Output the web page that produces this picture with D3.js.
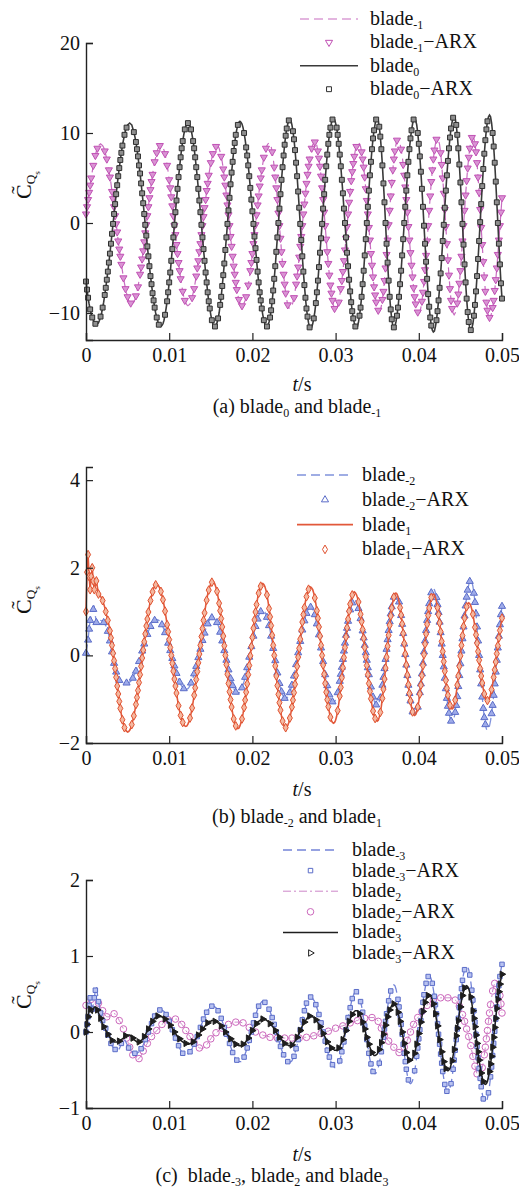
<!DOCTYPE html>
<html>
<head>
<meta charset="utf-8">
<script src="https://cdn.jsdelivr.net/npm/d3@7"></script>
<style>
  body { margin: 0; background: #fff; }
  svg { display: block; font-family: 'Liberation Serif', 'Times New Roman', serif; }
</style>
</head>
<body>
<svg id="fig" width="519" height="1189"></svg>
<script>
const DT = 0.000125; // sample step of all series, s

// (a)
const blade0 = [-6.5, -7.4, -8.3, -9.0, -9.6, -10.1, -10.5, -10.8, -11.0, -11.2, -11.3,
  -11.2, -11.1, -10.8, -10.4, -10.0, -9.4, -8.8, -8.0, -7.2, -6.3, -5.4, -4.4, -3.4, -2.3, -1.2, -0.1, 1.0, 2.1, 3.2, 4.2, 5.2, 6.1, 7.0, 7.8, 8.6, 9.2, 9.8, 10.3, 10.6, 10.9, 11.0, 11.1,
  11.0, 10.9, 10.5, 10.1, 9.6, 9.0, 8.2, 7.4, 6.4, 5.5, 4.4, 3.3, 2.2, 1.0, -0.2, -1.4, -2.6, -3.7, -4.8, -5.9, -6.8, -7.8, -8.6, -9.4, -10.0, -10.5, -10.9, -11.3, -11.4, -11.5,
  -11.4, -11.2, -10.8, -10.2, -9.5, -8.7, -7.7, -6.6, -5.5, -4.2, -2.9, -1.6, -0.2, 1.2, 2.5, 3.8, 5.1, 6.2, 7.3, 8.3, 9.1, 9.8, 10.4, 10.8, 11.0, 11.1,
  11.0, 10.8, 10.4, 9.8, 9.1, 8.3, 7.3, 6.2, 5.1, 3.8, 2.5, 1.2, -0.2, -1.6, -2.9, -4.2, -5.5, -6.6, -7.7, -8.7, -9.5, -10.2, -10.8, -11.2, -11.4, -11.5,
  -11.4, -11.1, -10.6, -10.0, -9.1, -8.2, -7.0, -5.8, -4.5, -3.0, -1.6, -0.1, 1.4, 2.8, 4.3, 5.6, 6.8, 8.0, 8.9, 9.8, 10.4, 10.9, 11.2, 11.3,
  11.2, 11.0, 10.6, 10.0, 9.3, 8.4, 7.5, 6.4, 5.2, 3.9, 2.6, 1.3, -0.1, -1.5, -2.8, -4.1, -5.4, -6.6, -7.7, -8.6, -9.5, -10.2, -10.8, -11.2, -11.4, -11.5,
  -11.4, -11.0, -10.5, -9.7, -8.7, -7.5, -6.2, -4.8, -3.2, -1.6, 0.0, 1.6, 3.2, 4.8, 6.2, 7.5, 8.7, 9.7, 10.5, 11.0, 11.4, 11.5,
  11.4, 10.9, 10.2, 9.3, 8.1, 6.7, 5.2, 3.5, 1.7, -0.1, -1.9, -3.7, -5.4, -6.9, -8.3, -9.5, -10.4, -11.1, -11.6, -11.7,
  -11.6, -11.2, -10.6, -9.9, -8.9, -7.7, -6.4, -4.9, -3.3, -1.7, -0.1, 1.6, 3.2, 4.8, 6.3, 7.6, 8.8, 9.8, 10.6, 11.1, 11.5, 11.6,
  11.5, 11.1, 10.6, 9.8, 8.8, 7.6, 6.3, 4.8, 3.3, 1.6, 0.0, -1.6, -3.3, -4.8, -6.3, -7.6, -8.8, -9.8, -10.6, -11.1, -11.5, -11.6,
  -11.5, -11.0, -10.3, -9.4, -8.2, -6.8, -5.3, -3.6, -1.8, 0.0, 1.8, 3.6, 5.3, 6.8, 8.2, 9.4, 10.3, 11.0, 11.5, 11.6,
  11.4, 10.7, 9.6, 8.2, 6.4, 4.4, 2.3, 0.0, -2.3, -4.4, -6.4, -8.2, -9.6, -10.7, -11.4, -11.6,
  -11.5, -11.0, -10.3, -9.4, -8.2, -6.8, -5.3, -3.6, -1.8, 0.0, 1.8, 3.6, 5.3, 6.8, 8.2, 9.4, 10.3, 11.0, 11.5, 11.6,
  11.4, 10.9, 10.0, 8.8, 7.4, 5.7, 3.8, 1.8, -0.3, -2.3, -4.3, -6.2, -7.9, -9.3, -10.5, -11.4, -11.9, -12.1,
  -12.0, -11.5, -10.8, -9.8, -8.6, -7.2, -5.6, -3.9, -2.0, -0.2, 1.7, 3.6, 5.3, 6.9, 8.3, 9.5, 10.5, 11.2, 11.7, 11.8,
  11.6, 10.9, 9.8, 8.3, 6.5, 4.5, 2.3, -0.1, -2.4, -4.6, -6.6, -8.4, -9.9, -11.0, -11.7, -11.9,
  -11.7, -11.2, -10.3, -9.1, -7.6, -5.9, -4.0, -2.0, 0.1, 2.1, 4.1, 6.0, 7.7, 9.2, 10.4, 11.3, 11.8, 12.0,
  11.8, 11.1, 10.0, 8.5, 6.7, 4.6, 2.3, 0.0, -2.3, -4.6, -6.7, -8.4];

const bladeM1 = [1.0, 1.8, 2.6, 3.4, 4.2, 5.0, 5.7, 6.4, 7.0, 7.5, 8.0, 8.3, 8.6, 8.7, 8.8,
  8.7, 8.6, 8.4, 8.0, 7.6, 7.1, 6.5, 5.9, 5.1, 4.4, 3.5, 2.7, 1.8, 0.8, -0.1, -1.0, -2.0, -2.9, -3.7, -4.6, -5.3, -6.1, -6.7, -7.3, -7.8, -8.2, -8.6, -8.8, -8.9, -9.0,
  -8.9, -8.8, -8.5, -8.1, -7.6, -7.1, -6.4, -5.7, -4.9, -4.0, -3.1, -2.1, -1.1, -0.2, 0.8, 1.8, 2.8, 3.7, 4.6, 5.4, 6.1, 6.8, 7.3, 7.8, 8.2, 8.5, 8.6, 8.7,
  8.6, 8.4, 8.1, 7.7, 7.1, 6.4, 5.7, 4.8, 3.9, 2.9, 1.9, 0.8, -0.3, -1.3, -2.4, -3.4, -4.4, -5.3, -6.2, -6.9, -7.6, -8.2, -8.6, -8.9, -9.1, -9.2,
  -9.1, -9.0, -8.7, -8.3, -7.8, -7.3, -6.6, -5.9, -5.0, -4.2, -3.2, -2.3, -1.3, -0.3, 0.7, 1.7, 2.6, 3.6, 4.4, 5.3, 6.0, 6.7, 7.2, 7.7, 8.1, 8.4, 8.5, 8.6,
  8.5, 8.3, 7.9, 7.4, 6.8, 6.0, 5.1, 4.2, 3.1, 2.0, 0.9, -0.3, -1.5, -2.6, -3.7, -4.8, -5.7, -6.6, -7.4, -8.0, -8.5, -8.9, -9.1, -9.2,
  -9.1, -8.9, -8.6, -8.2, -7.6, -6.9, -6.2, -5.3, -4.4, -3.4, -2.3, -1.3, -0.2, 0.9, 2.0, 3.0, 4.1, 5.0, 5.9, 6.6, 7.3, 7.8, 8.3, 8.6, 8.8, 8.9,
  8.8, 8.5, 7.9, 7.2, 6.2, 5.1, 3.9, 2.6, 1.1, -0.3, -1.7, -3.2, -4.5, -5.7, -6.8, -7.8, -8.5, -9.1, -9.4, -9.5,
  -9.4, -9.2, -8.8, -8.3, -7.6, -6.8, -5.9, -4.9, -3.8, -2.6, -1.5, -0.3, 1.0, 2.1, 3.3, 4.4, 5.4, 6.3, 7.1, 7.8, 8.3, 8.7, 8.9, 9.0,
  8.9, 8.6, 8.0, 7.2, 6.3, 5.2, 3.9, 2.6, 1.2, -0.3, -1.8, -3.2, -4.5, -5.8, -6.9, -7.8, -8.6, -9.2, -9.5, -9.6,
  -9.5, -9.2, -8.8, -8.1, -7.3, -6.4, -5.4, -4.2, -3.0, -1.7, -0.4, 1.0, 2.3, 3.5, 4.7, 5.7, 6.6, 7.4, 8.1, 8.5, 8.8, 8.9,
  8.8, 8.5, 7.9, 7.1, 6.2, 5.1, 3.8, 2.5, 1.0, -0.5, -1.9, -3.4, -4.7, -6.0, -7.1, -8.0, -8.8, -9.4, -9.7, -9.8,
  -9.7, -9.2, -8.5, -7.6, -6.4, -5.0, -3.5, -1.9, -0.2, 1.4, 3.0, 4.5, 5.9, 7.1, 8.0, 8.7, 9.2, 9.3,
  9.2, 8.8, 8.2, 7.5, 6.5, 5.3, 4.0, 2.6, 1.2, -0.4, -1.9, -3.3, -4.7, -6.0, -7.2, -8.2, -9.0, -9.5, -9.9, -10.0,
  -9.9, -9.4, -8.7, -7.7, -6.5, -5.2, -3.6, -2.0, -0.3, 1.4, 3.0, 4.6, 5.9, 7.1, 8.1, 8.8, 9.3, 9.4,
  9.2, 8.7, 7.8, 6.5, 5.0, 3.3, 1.5, -0.4, -2.3, -4.1, -5.8, -7.3, -8.6, -9.5, -10.0, -10.2,
  -10.0, -9.6, -8.9, -7.9, -6.7, -5.3, -3.7, -2.0, -0.3, 1.4, 3.1, 4.7, 6.1, 7.3, 8.3, 9.0, 9.5, 9.6,
  9.4, 8.8, 7.9, 6.7, 5.1, 3.4, 1.5, -0.5, -2.4, -4.3, -6.0, -7.6, -8.8, -9.7, -10.3, -10.5,
  -10.4, -10.0, -9.4, -8.6, -7.5, -6.3, -5.0, -3.5, -1.9, -0.3, 1.2, 2.8];

// (b)
const blade1 = [1.0, 1.9, 2.3, 1.8, 1.5, 1.8, 2.0, 1.7, 1.5, 1.6, 1.7, 1.55, 1.4, 1.38, 1.35, 1.3, 1.25, 1.18, 1.1, 1.0, 0.9, 0.8, 0.7, 0.56, 0.4, 0.23, 0.05, -0.12, -0.3, -0.5, -0.7, -0.88, -1.05, -1.21, -1.35, -1.47, -1.57, -1.65, -1.7, -1.73, -1.75,
  -1.74, -1.71, -1.66, -1.58, -1.49, -1.38, -1.26, -1.12, -0.96, -0.80, -0.62, -0.44, -0.25, -0.06, 0.12, 0.31, 0.49, 0.67, 0.83, 0.99, 1.13, 1.25, 1.36, 1.45, 1.53, 1.58, 1.61, 1.62,
  1.61, 1.58, 1.53, 1.46, 1.37, 1.27, 1.15, 1.01, 0.86, 0.70, 0.54, 0.36, 0.18, 0.0, -0.18, -0.36, -0.54, -0.70, -0.86, -1.01, -1.15, -1.27, -1.37, -1.46, -1.53, -1.58, -1.61, -1.62,
  -1.61, -1.57, -1.51, -1.43, -1.33, -1.20, -1.06, -0.91, -0.74, -0.55, -0.37, -0.17, 0.03, 0.23, 0.43, 0.61, 0.80, 0.97, 1.12, 1.26, 1.39, 1.49, 1.57, 1.63, 1.67, 1.68,
  1.67, 1.62, 1.55, 1.46, 1.33, 1.19, 1.02, 0.84, 0.65, 0.44, 0.22, 0.0, -0.21, -0.43, -0.64, -0.83, -1.01, -1.18, -1.32, -1.45, -1.54, -1.61, -1.66, -1.67,
  -1.66, -1.61, -1.54, -1.45, -1.33, -1.19, -1.02, -0.84, -0.65, -0.44, -0.23, -0.01, 0.20, 0.41, 0.62, 0.81, 0.99, 1.16, 1.30, 1.42, 1.51, 1.58, 1.63, 1.64,
  1.62, 1.57, 1.49, 1.38, 1.24, 1.07, 0.88, 0.68, 0.46, 0.23, 0.0, -0.24, -0.47, -0.69, -0.89, -1.08, -1.25, -1.39, -1.50, -1.58, -1.63, -1.65,
  -1.64, -1.60, -1.53, -1.43, -1.32, -1.18, -1.02, -0.85, -0.66, -0.46, -0.25, -0.04, 0.16, 0.37, 0.57, 0.76, 0.93, 1.09, 1.23, 1.34, 1.44, 1.51, 1.55, 1.56,
  1.54, 1.50, 1.42, 1.31, 1.18, 1.02, 0.85, 0.65, 0.44, 0.23, 0.0, -0.22, -0.43, -0.64, -0.84, -1.01, -1.17, -1.30, -1.41, -1.49, -1.53, -1.55,
  -1.53, -1.48, -1.39, -1.26, -1.11, -0.93, -0.73, -0.51, -0.28, -0.05, 0.18, 0.42, 0.63, 0.83, 1.01, 1.17, 1.29, 1.38, 1.43, 1.45,
  1.43, 1.39, 1.32, 1.22, 1.09, 0.94, 0.77, 0.59, 0.39, 0.18, -0.03, -0.23, -0.44, -0.64, -0.82, -0.99, -1.14, -1.27, -1.37, -1.44, -1.48, -1.5,
  -1.48, -1.41, -1.30, -1.16, -0.98, -0.77, -0.54, -0.29, -0.04, 0.21, 0.46, 0.69, 0.90, 1.08, 1.22, 1.33, 1.40, 1.42,
  1.40, 1.34, 1.23, 1.09, 0.92, 0.72, 0.50, 0.27, 0.03, -0.22, -0.45, -0.67, -0.87, -1.04, -1.18, -1.29, -1.35, -1.37,
  -1.35, -1.29, -1.18, -1.05, -0.88, -0.68, -0.46, -0.23, 0.02, 0.26, 0.49, 0.71, 0.91, 1.08, 1.21, 1.32, 1.38, 1.40,
  1.38, 1.32, 1.22, 1.09, 0.93, 0.74, 0.54, 0.32, 0.09, -0.14, -0.36, -0.57, -0.75, -0.91, -1.04, -1.14, -1.20, -1.22,
  -1.20, -1.13, -1.02, -0.87, -0.68, -0.47, -0.25, -0.01, 0.23, 0.45, 0.66, 0.85, 1.00, 1.11, 1.18, 1.20,
  1.18, 1.13, 1.05, 0.94, 0.80, 0.64, 0.47, 0.28, 0.09, -0.11, -0.30, -0.47, -0.63, -0.77, -0.88, -0.96, -1.01, -1.03,
  -1.01, -0.97, -0.89, -0.78, -0.65, -0.50, -0.33, -0.15, 0.04, 0.22, 0.40, 0.57, 0.72, 0.85];

const bladeM2 = [0.05, 0.2, 0.35, 0.6, 0.8, 0.9, 0.95, 1.05, 1.1, 0.9, 0.75, 0.8, 0.85, 0.83, 0.8, 0.79, 0.78, 0.75, 0.72, 0.68, 0.62, 0.55, 0.45, 0.33, 0.2, 0.08, -0.05, -0.18, -0.3, -0.38, -0.45, -0.52, -0.57, -0.6, -0.62, -0.63, -0.63, -0.63, -0.63, -0.63, -0.63,
  -0.63, -0.61, -0.59, -0.56, -0.52, -0.47, -0.42, -0.36, -0.29, -0.22, -0.14, -0.07, 0.01, 0.10, 0.18, 0.26, 0.33, 0.41, 0.48, 0.55, 0.61, 0.66, 0.71, 0.75, 0.78, 0.80, 0.81, 0.82,
  0.81, 0.80, 0.78, 0.74, 0.70, 0.65, 0.59, 0.52, 0.45, 0.37, 0.28, 0.20, 0.11, 0.02, -0.07, -0.16, -0.24, -0.33, -0.41, -0.48, -0.55, -0.61, -0.66, -0.70, -0.74, -0.76, -0.77, -0.78,
  -0.77, -0.76, -0.73, -0.69, -0.63, -0.57, -0.50, -0.42, -0.34, -0.25, -0.15, -0.05, 0.05, 0.14, 0.24, 0.34, 0.43, 0.51, 0.59, 0.66, 0.72, 0.78, 0.82, 0.85, 0.86, 0.87,
  0.86, 0.84, 0.80, 0.75, 0.69, 0.62, 0.53, 0.43, 0.33, 0.22, 0.11, 0.0, -0.11, -0.22, -0.33, -0.43, -0.53, -0.62, -0.69, -0.75, -0.80, -0.84, -0.86, -0.87,
  -0.86, -0.84, -0.80, -0.74, -0.67, -0.59, -0.50, -0.39, -0.28, -0.17, -0.04, 0.08, 0.20, 0.33, 0.44, 0.56, 0.66, 0.75, 0.83, 0.90, 0.96, 1.00, 1.02, 1.03,
  1.02, 0.99, 0.94, 0.87, 0.78, 0.68, 0.57, 0.44, 0.30, 0.16, 0.02, -0.12, -0.26, -0.40, -0.53, -0.64, -0.74, -0.83, -0.90, -0.95, -0.98, -0.99,
  -0.98, -0.95, -0.91, -0.85, -0.77, -0.68, -0.58, -0.47, -0.34, -0.21, -0.08, 0.06, 0.19, 0.32, 0.45, 0.58, 0.69, 0.79, 0.88, 0.96, 1.02, 1.06, 1.09, 1.10,
  1.09, 1.06, 1.00, 0.93, 0.83, 0.72, 0.60, 0.47, 0.32, 0.17, 0.02, -0.14, -0.29, -0.44, -0.57, -0.69, -0.80, -0.90, -0.97, -1.03, -1.06, -1.07,
  -1.06, -1.01, -0.94, -0.85, -0.73, -0.59, -0.43, -0.27, -0.09, 0.10, 0.28, 0.46, 0.62, 0.78, 0.92, 1.04, 1.13, 1.20, 1.25, 1.26,
  1.25, 1.21, 1.15, 1.07, 0.97, 0.84, 0.71, 0.56, 0.40, 0.23, 0.06, -0.11, -0.28, -0.44, -0.59, -0.72, -0.85, -0.95, -1.03, -1.09, -1.13, -1.14,
  -1.12, -1.06, -0.97, -0.84, -0.68, -0.50, -0.30, -0.09, 0.14, 0.36, 0.57, 0.77, 0.95, 1.11, 1.24, 1.33, 1.39, 1.41,
  1.39, 1.33, 1.22, 1.08, 0.91, 0.71, 0.50, 0.26, 0.02, -0.22, -0.46, -0.68, -0.87, -1.04, -1.18, -1.29, -1.35, -1.37,
  -1.35, -1.28, -1.18, -1.03, -0.85, -0.65, -0.42, -0.18, 0.08, 0.33, 0.57, 0.80, 1.00, 1.18, 1.33, 1.43, 1.50, 1.52,
  1.50, 1.43, 1.32, 1.16, 0.98, 0.76, 0.52, 0.26, 0.0, -0.26, -0.52, -0.76, -0.98, -1.16, -1.32, -1.43, -1.50, -1.52,
  -1.50, -1.42, -1.30, -1.14, -0.94, -0.71, -0.46, -0.19, 0.10, 0.38, 0.65, 0.90, 1.13, 1.33, 1.49, 1.61, 1.69, 1.71,
  1.68, 1.58, 1.42, 1.21, 0.95, 0.65, 0.33, 0.0, -0.33, -0.65, -0.95, -1.21, -1.42, -1.58, -1.68, -1.71,
  -1.69, -1.61, -1.49, -1.33, -1.14, -0.91, -0.65, -0.38, -0.11, 0.17, 0.44, 0.70, 0.93, 1.12];

// (c)
const blade3 = [0.0, 0.1, 0.2, 0.27, 0.3, 0.26, 0.25, 0.3, 0.33, 0.33, 0.32, 0.29, 0.25, 0.22, 0.18, 0.14, 0.1, 0.07, 0.05, 0.02, 0.0, -0.03, -0.05, -0.07, -0.09, -0.11, -0.12, -0.13, -0.13, -0.13, -0.13, -0.13, -0.12, -0.11, -0.1, -0.09, -0.08, -0.06, -0.05, -0.04, -0.04, -0.04, -0.04, -0.05, -0.07, -0.08, -0.1, -0.11, -0.12, -0.13, -0.13,
  -0.13, -0.12, -0.11, -0.10, -0.08, -0.06, -0.04, -0.01, 0.01, 0.04, 0.07, 0.09, 0.12, 0.14, 0.16, 0.18, 0.19, 0.20, 0.21, 0.21,
  0.21, 0.20, 0.20, 0.19, 0.18, 0.17, 0.16, 0.14, 0.12, 0.11, 0.09, 0.07, 0.05, 0.02, 0.0, -0.02, -0.04, -0.06, -0.07, -0.09, -0.11, -0.12, -0.13, -0.14, -0.15, -0.15, -0.16, -0.16,
  -0.16, -0.15, -0.15, -0.14, -0.13, -0.11, -0.10, -0.08, -0.06, -0.04, -0.03, 0.0, 0.02, 0.04, 0.05, 0.07, 0.09, 0.10, 0.12, 0.13, 0.14, 0.14, 0.15, 0.15,
  0.15, 0.14, 0.14, 0.13, 0.12, 0.11, 0.09, 0.08, 0.06, 0.04, 0.02, 0.0, -0.02, -0.04, -0.05, -0.07, -0.09, -0.11, -0.12, -0.14, -0.15, -0.16, -0.17, -0.17, -0.18, -0.18,
  -0.18, -0.17, -0.16, -0.15, -0.14, -0.12, -0.10, -0.08, -0.05, -0.03, 0.0, 0.02, 0.04, 0.07, 0.09, 0.11, 0.13, 0.14, 0.15, 0.16, 0.17, 0.17,
  0.17, 0.16, 0.16, 0.15, 0.14, 0.13, 0.11, 0.09, 0.08, 0.06, 0.04, 0.02, 0.0, -0.03, -0.05, -0.07, -0.09, -0.10, -0.12, -0.14, -0.15, -0.16, -0.17, -0.17, -0.18, -0.18,
  -0.18, -0.17, -0.16, -0.14, -0.12, -0.10, -0.07, -0.04, -0.02, 0.02, 0.05, 0.08, 0.10, 0.13, 0.15, 0.17, 0.19, 0.20, 0.21, 0.21,
  0.21, 0.20, 0.19, 0.18, 0.16, 0.14, 0.12, 0.10, 0.07, 0.04, 0.01, -0.02, -0.04, -0.07, -0.10, -0.13, -0.15, -0.17, -0.19, -0.21, -0.22, -0.23, -0.24, -0.24,
  -0.24, -0.23, -0.21, -0.19, -0.16, -0.13, -0.10, -0.06, -0.02, 0.02, 0.06, 0.10, 0.14, 0.17, 0.20, 0.23, 0.25, 0.27, 0.28, 0.28,
  0.28, 0.26, 0.24, 0.21, 0.17, 0.13, 0.09, 0.04, -0.02, -0.07, -0.12, -0.16, -0.20, -0.24, -0.27, -0.29, -0.31, -0.31,
  -0.30, -0.29, -0.26, -0.23, -0.19, -0.14, -0.09, -0.03, 0.03, 0.09, 0.15, 0.20, 0.25, 0.29, 0.32, 0.35, 0.36, 0.37,
  0.36, 0.34, 0.31, 0.26, 0.20, 0.14, 0.07, 0.0, -0.08, -0.15, -0.21, -0.27, -0.32, -0.35, -0.37, -0.38,
  -0.37, -0.35, -0.32, -0.28, -0.22, -0.16, -0.09, -0.02, 0.06, 0.13, 0.20, 0.27, 0.33, 0.39, 0.43, 0.46, 0.48, 0.49,
  0.48, 0.46, 0.42, 0.37, 0.31, 0.24, 0.16, 0.08, -0.01, -0.10, -0.18, -0.26, -0.33, -0.39, -0.44, -0.48, -0.50, -0.51,
  -0.50, -0.48, -0.43, -0.38, -0.31, -0.23, -0.14, -0.05, 0.05, 0.15, 0.24, 0.33, 0.41, 0.48, 0.53, 0.58, 0.60, 0.61,
  0.60, 0.57, 0.52, 0.46, 0.38, 0.28, 0.18, 0.07, -0.04, -0.15, -0.26, -0.37, -0.46, -0.54, -0.60, -0.65, -0.68, -0.69,
  -0.68, -0.65, -0.59, -0.52, -0.42, -0.32, -0.20, -0.07, 0.06, 0.18, 0.31, 0.43, 0.53, 0.63, 0.70, 0.76];

const bladeM3 = [0.0, 0.1, 0.2, 0.35, 0.45, 0.38, 0.3, 0.36, 0.45, 0.55, 0.6, 0.5, 0.4, 0.32, 0.25, 0.2, 0.15, 0.12, 0.1, 0.05, 0.0, -0.04, -0.08, -0.12, -0.15, -0.18, -0.2, -0.22, -0.23, -0.24, -0.24, -0.23, -0.22, -0.19, -0.15, -0.11, -0.08, -0.1, -0.12, -0.15, -0.18, -0.21, -0.23, -0.25, -0.26, -0.27, -0.27, -0.28, -0.28,
  -0.28, -0.27, -0.26, -0.24, -0.22, -0.20, -0.17, -0.14, -0.10, -0.07, -0.03, 0.0, 0.04, 0.08, 0.11, 0.15, 0.18, 0.21, 0.23, 0.25, 0.27, 0.28, 0.29, 0.29,
  0.29, 0.28, 0.27, 0.25, 0.23, 0.20, 0.17, 0.14, 0.11, 0.07, 0.03, 0.0, -0.04, -0.08, -0.12, -0.15, -0.18, -0.21, -0.24, -0.26, -0.28, -0.29, -0.30, -0.30,
  -0.30, -0.29, -0.28, -0.26, -0.24, -0.22, -0.19, -0.16, -0.13, -0.09, -0.06, -0.02, 0.02, 0.06, 0.10, 0.13, 0.17, 0.20, 0.23, 0.26, 0.28, 0.30, 0.32, 0.33, 0.34, 0.34,
  0.34, 0.33, 0.32, 0.30, 0.28, 0.25, 0.22, 0.18, 0.14, 0.10, 0.06, 0.02, -0.03, -0.07, -0.11, -0.15, -0.19, -0.23, -0.27, -0.30, -0.33, -0.35, -0.37, -0.38, -0.39, -0.39,
  -0.39, -0.37, -0.35, -0.33, -0.29, -0.25, -0.21, -0.16, -0.11, -0.05, 0.0, 0.06, 0.12, 0.17, 0.22, 0.26, 0.30, 0.34, 0.36, 0.38, 0.40, 0.40,
  0.40, 0.39, 0.37, 0.35, 0.33, 0.30, 0.27, 0.23, 0.19, 0.14, 0.10, 0.05, 0.0, -0.05, -0.10, -0.14, -0.19, -0.23, -0.27, -0.30, -0.33, -0.35, -0.37, -0.39, -0.40, -0.40,
  -0.39, -0.38, -0.35, -0.32, -0.27, -0.22, -0.17, -0.10, -0.04, 0.03, 0.10, 0.16, 0.23, 0.28, 0.33, 0.38, 0.41, 0.44, 0.45, 0.46,
  0.46, 0.44, 0.42, 0.40, 0.36, 0.32, 0.28, 0.23, 0.17, 0.12, 0.06, 0.0, -0.07, -0.12, -0.18, -0.24, -0.29, -0.33, -0.37, -0.41, -0.43, -0.45, -0.47, -0.47,
  -0.46, -0.45, -0.42, -0.38, -0.32, -0.26, -0.20, -0.13, -0.05, 0.03, 0.11, 0.19, 0.26, 0.32, 0.38, 0.44, 0.48, 0.51, 0.52, 0.53,
  0.52, 0.50, 0.46, 0.40, 0.34, 0.26, 0.17, 0.08, -0.01, -0.10, -0.19, -0.28, -0.36, -0.42, -0.48, -0.52, -0.54, -0.55,
  -0.54, -0.51, -0.47, -0.41, -0.34, -0.26, -0.17, -0.07, 0.04, 0.14, 0.24, 0.33, 0.41, 0.48, 0.54, 0.58, 0.61, 0.62,
  0.61, 0.57, 0.51, 0.43, 0.33, 0.22, 0.10, -0.03, -0.16, -0.28, -0.39, -0.49, -0.57, -0.63, -0.67, -0.68,
  -0.67, -0.64, -0.58, -0.51, -0.43, -0.32, -0.21, -0.09, 0.03, 0.15, 0.27, 0.39, 0.49, 0.57, 0.64, 0.70, 0.73, 0.74,
  0.73, 0.69, 0.64, 0.56, 0.47, 0.36, 0.24, 0.11, -0.03, -0.16, -0.29, -0.41, -0.52, -0.61, -0.69, -0.74, -0.78, -0.79,
  -0.78, -0.74, -0.68, -0.60, -0.49, -0.37, -0.24, -0.10, 0.04, 0.18, 0.32, 0.46, 0.57, 0.68, 0.76, 0.82, 0.86, 0.87,
  0.86, 0.82, 0.75, 0.66, 0.55, 0.42, 0.28, 0.13, -0.03, -0.19, -0.34, -0.48, -0.61, -0.72, -0.81, -0.88, -0.92, -0.93,
  -0.92, -0.87, -0.80, -0.71, -0.59, -0.46, -0.31, -0.15, 0.01, 0.17, 0.33, 0.48, 0.61, 0.73, 0.82, 0.89];

const blade2 = [0.35, 0.38, 0.4, 0.41, 0.42, 0.43, 0.44, 0.45, 0.45, 0.44, 0.42, 0.4, 0.38, 0.36, 0.33, 0.3, 0.28, 0.25, 0.23, 0.21, 0.2, 0.2, 0.2, 0.21, 0.22, 0.23, 0.24, 0.24, 0.24, 0.22, 0.2, 0.18, 0.15, 0.13, 0.1, 0.07, 0.04, 0.0, -0.04, -0.08, -0.12, -0.16, -0.2, -0.24, -0.27, -0.3, -0.32, -0.34, -0.35, -0.36, -0.36,
  -0.35, -0.33, -0.31, -0.28, -0.25, -0.22, -0.2, -0.17, -0.15, -0.12, -0.1, -0.08, -0.06, -0.04, -0.03, -0.01, 0.0, 0.02, 0.03, 0.05, 0.06, 0.08, 0.1, 0.11, 0.12, 0.13, 0.14, 0.15, 0.16, 0.17, 0.18, 0.18, 0.18, 0.18,
  0.18, 0.17, 0.17, 0.16, 0.15, 0.14, 0.12, 0.10, 0.09, 0.07, 0.05, 0.02, 0.0, -0.02, -0.04, -0.06, -0.09, -0.11, -0.13, -0.14, -0.16, -0.18, -0.19, -0.20, -0.21, -0.21, -0.22, -0.22,
  -0.21, -0.20, -0.19, -0.17, -0.15, -0.13, -0.11, -0.09, -0.07, -0.05, -0.03, -0.02, -0.01, 0.0, 0.01, 0.02, 0.03, 0.04, 0.05, 0.06, 0.07, 0.07, 0.08, 0.09, 0.1, 0.10, 0.11, 0.11, 0.12, 0.12, 0.13, 0.13, 0.13, 0.13, 0.13, 0.13,
  0.13, 0.12, 0.12, 0.11, 0.1, 0.09, 0.08, 0.07, 0.06, 0.05, 0.04, 0.03, 0.02, 0.01, 0.0, -0.01, -0.02, -0.02, -0.03, -0.03, -0.04, -0.04, -0.05, -0.05, -0.05, -0.05, -0.06, -0.06, -0.07, -0.07, -0.07, -0.07, -0.08, -0.08,
  -0.08, -0.08, -0.08, -0.08, -0.08, -0.08, -0.08, -0.08, -0.08, -0.08, -0.08, -0.08, -0.08, -0.08, -0.08, -0.08, -0.08, -0.08, -0.08, -0.08,
  -0.08, -0.08, -0.08, -0.08, -0.08, -0.08, -0.08, -0.07, -0.07, -0.07, -0.07, -0.06, -0.06, -0.06, -0.06, -0.05, -0.05, -0.04, -0.04, -0.04,
  -0.04, -0.03, -0.03, -0.02, -0.02, -0.01, -0.01, 0.0, 0.0, 0.01, 0.01, 0.02, 0.02, 0.03, 0.03, 0.04, 0.04, 0.05, 0.05, 0.06, 0.06, 0.07, 0.07, 0.08, 0.08, 0.09, 0.09, 0.10,
  0.10, 0.11, 0.11, 0.12, 0.12, 0.13, 0.13, 0.14, 0.14, 0.15, 0.15, 0.16, 0.16, 0.16, 0.17, 0.17, 0.17, 0.18, 0.18, 0.18, 0.19, 0.19, 0.19, 0.19, 0.19, 0.19, 0.19, 0.18,
  0.17, 0.16, 0.14, 0.11, 0.08, 0.05, 0.02, -0.01, -0.04, -0.06, -0.08, -0.10, -0.12, -0.13, -0.15, -0.16, -0.18, -0.20, -0.22, -0.23, -0.25, -0.26, -0.27, -0.27,
  -0.26, -0.25, -0.23, -0.2, -0.17, -0.14, -0.11, -0.07, -0.04, 0.0, 0.04, 0.07, 0.1, 0.12, 0.15, 0.17, 0.19, 0.21, 0.23, 0.25, 0.27, 0.29, 0.31, 0.32, 0.34, 0.35, 0.37, 0.38,
  0.39, 0.4, 0.41, 0.42, 0.43, 0.43, 0.44, 0.44, 0.44, 0.44, 0.45, 0.45, 0.45, 0.45, 0.45, 0.45, 0.45, 0.45, 0.45, 0.45, 0.45, 0.44, 0.44, 0.43, 0.42, 0.41,
  0.39, 0.37, 0.34, 0.31, 0.27, 0.23, 0.19, 0.14, 0.09, 0.04, -0.01, -0.06, -0.12, -0.18, -0.25, -0.32, -0.39, -0.45, -0.5, -0.55,
  -0.57, -0.57, -0.55, -0.52, -0.47, -0.4, -0.3, -0.2, -0.09, 0.02, 0.14, 0.25, 0.36, 0.45, 0.54, 0.6, 0.64, 0.66, 0.66, 0.63, 0.57, 0.48, 0.37, 0.25];

const xTicks = [0, 0.01, 0.02, 0.03, 0.04, 0.05];
const xTickLabels = ['0', '0.01', '0.02', '0.03', '0.04', '0.05'];
const yTicksA = [-10, 0, 10, 20];
const yTicksB = [-2, 0, 2, 4];
const yTicksC = [-1, 0, 1, 2];

const FONT = 20;
const svg = d3.select('#fig');

const panels = [
  {
    top: 43, bottom: 340, yDomain: [-13, 20], yTicks: yTicksA, yMinor: 2,
    yLabel: 185, xTitle: 391, captionX: 297, captionY: 413,
    caption: [['(a) blade'], ['0', 'sub'], [' and blade'], ['-1', 'sub']],
    legend: { x0: 300, x1: 358, tx: 370, y0: 19, dy: 23.4 },
    series: [
      { values: bladeM1, name: [['blade'], ['-1', 'sub']], color: '#c86cc0', dash: '9,5', width: 1.2,
        sym: d3.symbolTriangle, rot: 180, size: 22, fill: '#d994d3', stroke: '#c050b4', gap: 7 },
      { values: blade0, name: [['blade'], ['0', 'sub']], color: '#3a3a3a', dash: null, width: 1.6,
        sym: d3.symbolSquare, rot: 0, size: 24, fill: '#8e8e8e', stroke: '#2e2e2e', gap: 7 }
    ]
  },
  {
    top: 467, bottom: 743, yDomain: [-2, 4.3], yTicks: yTicksB, yMinor: 0.2,
    yLabel: 600, xTitle: 796, captionX: 297, captionY: 823,
    caption: [['(b) blade'], ['-2', 'sub'], [' and blade'], ['1', 'sub']],
    legend: { x0: 297, x1: 353, tx: 362, y0: 475, dy: 24.8 },
    series: [
      { values: bladeM2, name: [['blade'], ['-2', 'sub']], color: '#8092dc', dash: '9,5', width: 1.3,
        sym: d3.symbolTriangle, rot: 0, size: 22, fill: '#9eabe9', stroke: '#5a6cc8', gap: 7 },
      { values: blade1, name: [['blade'], ['1', 'sub']], color: '#e2583a', dash: null, width: 1.6,
        sym: d3.symbolDiamond, rot: 0, size: 22, fill: '#f4b8a0', stroke: '#e0502e', gap: 7 }
    ]
  },
  {
    top: 880, bottom: 1108, yDomain: [-1, 2], yTicks: yTicksC, yMinor: 0.2,
    yLabel: 995, xTitle: 1161, captionX: 272, captionY: 1182,
    caption: [['(c)\u00a0\u00a0blade'], ['-3', 'sub'], [', blade'], ['2', 'sub'], [' and blade'], ['3', 'sub']],
    legend: { x0: 283, x1: 338, tx: 352, y0: 850, dy: 20.6 },
    series: [
      { values: blade2, name: [['blade'], ['2', 'sub']], color: '#cc86c8', dash: '8,3,2,3', width: 1.0,
        sym: d3.symbolCircle, rot: 0, size: 34, fill: 'none', stroke: '#cc68bc', gap: 7 },
      { values: bladeM3, name: [['blade'], ['-3', 'sub']], color: '#7484d8', dash: '9,5', width: 1.3,
        sym: d3.symbolSquare, rot: 0, size: 20, fill: '#b8c2f0', stroke: '#5a6cc8', gap: 7 },
      { values: blade3, name: [['blade'], ['3', 'sub']], color: '#1e1e1e', dash: null, width: 1.5,
        sym: d3.symbolTriangle, rot: 90, size: 18, fill: '#1e1e1e', stroke: '#1e1e1e', gap: 7 }
    ],
    legendOrder: [1, 0, 2]
  }
];

function richText(sel, parts, size) {
  let shift = 0;
  parts.forEach(([txt, kind]) => {
    const t = sel.append('tspan').text(txt);
    let want = 0;
    if (kind === 'sub') { want = size * 0.2; t.attr('font-size', size * 0.6); }
    if (kind === 'sub2') { want = size * 0.4; t.attr('font-size', size * 0.42); }
    if (kind === 'it') t.attr('font-style', 'italic');
    t.attr('dy', want - shift);
    shift = want;
  });
}

// keep a data point as a marker only when it is far enough from the last one (skip by distance)
function thin(pts, gap) {
  const out = [];
  let last = null;
  pts.forEach(p => {
    if (!last || Math.hypot(p[0] - last[0], p[1] - last[1]) >= gap) {
      out.push(p);
      last = p;
    }
  });
  return out;
}

function symbolPath(s) {
  return d3.symbol().type(s.sym).size(s.size)();
}

const fmt = d => (d < 0 ? '\u2212' + (-d) : String(d));

panels.forEach(p => {
  const g = svg.append('g');
  const x = d3.scaleLinear().domain([0, 0.05]).range([86, 502]);
  const y = d3.scaleLinear().domain(p.yDomain).range([p.bottom, p.top]);

  p.series.forEach(s => {
    const pts = s.values.map((v, i) => [x(i * DT), y(v)]);
    g.append('path')
      .attr('d', d3.line()(pts))
      .attr('fill', 'none')
      .attr('stroke', s.color)
      .attr('stroke-width', s.width)
      .attr('stroke-dasharray', s.dash);
    g.append('g').selectAll('path')
      .data(thin(pts, s.gap))
      .join('path')
      .attr('d', symbolPath(s))
      .attr('transform', d => `translate(${d[0]},${d[1]}) rotate(${s.rot})`)
      .attr('fill', s.fill)
      .attr('stroke', s.stroke)
      .attr('stroke-width', 1);
  });

  // axes, ticks pointing inward
  const yMinorStart = Math.ceil(p.yDomain[0] / p.yMinor - 1e-9) * p.yMinor;
  const yMinorTicks = d3.range(yMinorStart, p.yDomain[1] + 1e-9, p.yMinor);

  const ax = g.append('g').attr('transform', 'translate(86,0)');
  ax.call(d3.axisLeft(y).tickValues(yMinorTicks).tickSize(-4).tickFormat(''));
  ax.call(d3.axisLeft(y).tickValues(p.yTicks).tickSize(-7).tickPadding(6).tickFormat(fmt));

  const bx = g.append('g').attr('transform', `translate(0,${p.bottom})`);
  bx.call(d3.axisBottom(x).tickValues(d3.range(0, 0.0501, 0.005)).tickSize(-4).tickFormat(''));
  bx.call(d3.axisBottom(x).tickValues(xTicks).tickSize(-7).tickPadding(8)
    .tickFormat((d, i) => xTickLabels[i]));

  [ax, bx].forEach(a => {
    a.selectAll('.domain').attr('stroke', '#222').attr('stroke-width', 1.4);
    a.selectAll('line').attr('stroke', '#222').attr('stroke-width', 1.2);
    a.selectAll('text').attr('font-size', FONT).attr('font-family', 'Liberation Serif').attr('fill', '#111');
  });

  // y title
  const yt = g.append('text')
    .attr('transform', `translate(31,${p.yLabel}) rotate(-90)`)
    .attr('text-anchor', 'middle')
    .attr('font-size', 22).attr('fill', '#111');
  richText(yt, [['C\u0303'], ['Q', 'sub'], ['s', 'sub2']], 22);

  const xt = g.append('text').attr('x', 302).attr('y', p.xTitle)
    .attr('text-anchor', 'middle').attr('font-size', FONT).attr('fill', '#111');
  richText(xt, [['t', 'it'], ['/s']], FONT);

  const cap = g.append('text').attr('x', p.captionX).attr('y', p.captionY)
    .attr('text-anchor', 'middle').attr('font-size', FONT).attr('fill', '#111');
  richText(cap, p.caption, FONT);

  // legend: line entry, then the ARX marker entry of the same blade
  const L = p.legend;
  const order = p.legendOrder || p.series.map((d, i) => i);
  let row = 0;
  order.forEach(si => {
    const s = p.series[si];
    const yl = L.y0 + L.dy * row;
    g.append('line')
      .attr('x1', L.x0).attr('x2', L.x1).attr('y1', yl).attr('y2', yl)
      .attr('stroke', s.color).attr('stroke-width', s.width).attr('stroke-dasharray', s.dash);
    const t1 = g.append('text').attr('x', L.tx).attr('y', yl + 6).attr('font-size', FONT).attr('fill', '#111');
    richText(t1, s.name, FONT);
    row++;
    const ym = L.y0 + L.dy * row;
    g.append('path')
      .attr('d', symbolPath(s))
      .attr('transform', `translate(${(L.x0 + L.x1) / 2},${ym}) rotate(${s.rot})`)
      .attr('fill', s.fill === 'none' ? 'none' : '#fff')
      .attr('stroke', s.stroke).attr('stroke-width', 1);
    const t2 = g.append('text').attr('x', L.tx).attr('y', ym + 6).attr('font-size', FONT).attr('fill', '#111');
    richText(t2, s.name.concat([['\u2212ARX']]), FONT);
    row++;
  });
});
</script>
</body>
</html>
